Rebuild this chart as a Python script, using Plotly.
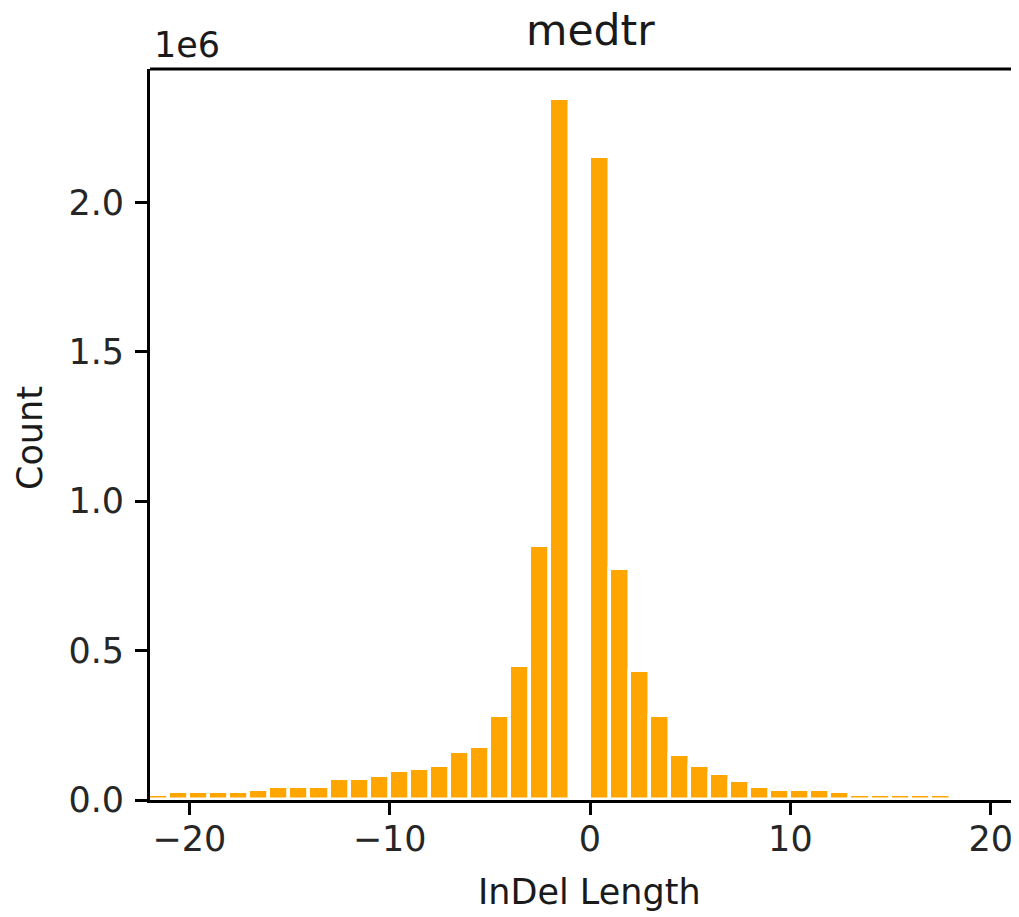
import plotly.graph_objects as go

# Histogram bins (left edge of each 1-wide bin) and counts
bin_starts = list(range(-22, 18))
counts = [
    17000, 27000, 27000, 27000, 27000, 35000, 44000, 44000, 44000, 70000,
    70000, 79000, 97000, 105000, 115000, 159000, 177000, 281000, 449000, 851000,
    2345000, 0, 2151000, 772000, 430000, 281000, 151000, 115000, 88500, 62000,
    44000, 35000, 35000, 35000, 27000, 18000, 18000, 18000, 18000, 18000,
]
x_ticks = [-20, -10, 0, 10, 20]
x_tick_labels = ["\u221220", "\u221210", "0", "10", "20"]
y_ticks = [0, 500000, 1000000, 1500000, 2000000]
y_tick_labels = ["0.0", "0.5", "1.0", "1.5", "2.0"]

FONT = "DejaVu Sans"
OFF = 8  # page body margin
W, H = 1019 - OFF, 917 - OFF
L, T = 150 - OFF, 69 - OFF
R = 0
B = H - (800 - OFF)
PW, PH = W - L - R, H - T - B

def px_x(p):
    return (p - OFF - L) / PW

def px_y(p):
    return (H - B - (p - OFF)) / PH

fig = go.Figure()
fig.add_trace(go.Bar(
    x=bin_starts, y=counts, offset=0, width=1,
    marker=dict(color="#FFA500", line=dict(color="white", width=3.5)),
    showlegend=False,
))

axis_common = dict(
    showgrid=False, zeroline=False, showline=True, linecolor="black", linewidth=2.8,
    ticks="outside", ticklen=12, tickwidth=2.8, tickcolor="black",
    tickfont=dict(family=FONT, size=35, color="#262626"), automargin=False,
)
fig.update_xaxes(range=[-21.96, 21.41], tickmode="array", tickvals=x_ticks,
                 ticktext=x_tick_labels, ticklabelstandoff=-6, **axis_common)
fig.update_yaxes(range=[0, 2.446e6], tickmode="array", tickvals=y_ticks,
                 ticktext=y_tick_labels, ticklabelstandoff=4, **axis_common)

# top spine
fig.add_shape(type="line", xref="paper", yref="paper", x0=0, x1=1, y0=1, y1=1,
              line=dict(color="black", width=2.8))

fig.add_annotation(text="medtr", xref="paper", yref="paper", x=px_x(590), y=px_y(31),
                   xanchor="center", yanchor="middle", showarrow=False,
                   font=dict(family=FONT, size=42.5, color="#1a1a1a"))
fig.add_annotation(text="1e6", xref="paper", yref="paper", x=px_x(152), y=px_y(45),
                   xanchor="left", yanchor="middle", showarrow=False,
                   font=dict(family=FONT, size=35, color="#1a1a1a"))
fig.add_annotation(text="InDel Length", xref="paper", yref="paper", x=px_x(589), y=px_y(892),
                   xanchor="center", yanchor="middle", showarrow=False,
                   font=dict(family=FONT, size=35, color="#1a1a1a"))
fig.add_annotation(text="Count", xref="paper", yref="paper", x=px_x(30), y=px_y(438),
                   xanchor="center", yanchor="middle", showarrow=False, textangle=-90,
                   font=dict(family=FONT, size=35, color="#1a1a1a"))

fig.update_layout(
    width=W, height=H, margin=dict(l=L, r=R, t=T, b=B, pad=0),
    paper_bgcolor="white", plot_bgcolor="white", bargap=0,
)
fig.write_html("out.html")
